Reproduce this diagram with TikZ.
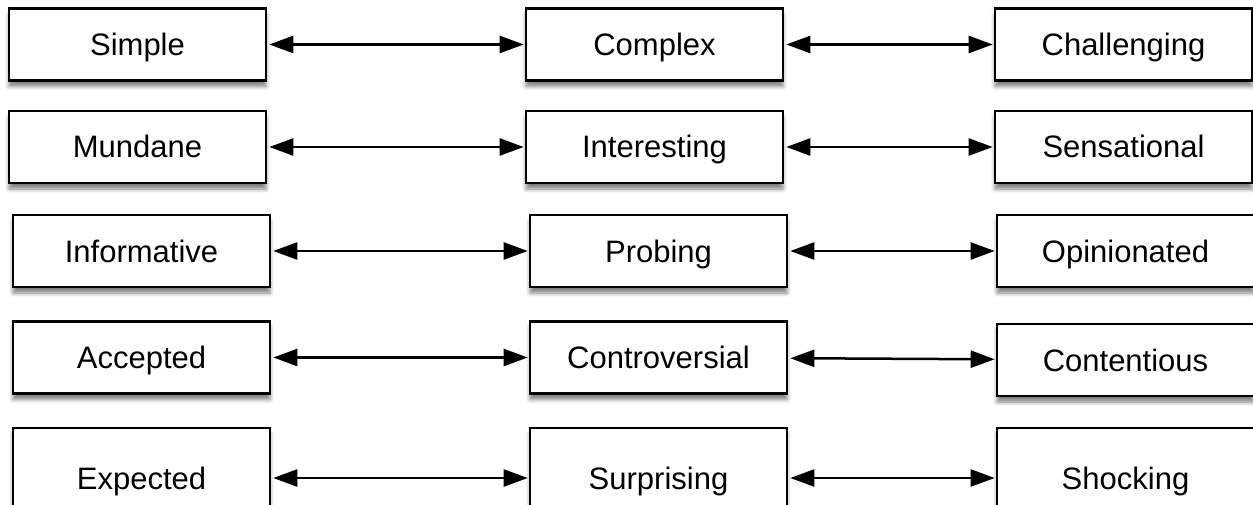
\documentclass[tikz,border=0pt]{standalone}
\usepackage{fontspec}
\setmainfont{Liberation Sans}
\usetikzlibrary{arrows.meta,shadows.blur}

\begin{document}
\begin{tikzpicture}[
  x=1pt, y=-1pt,
  box/.style={draw, fill=white, line width=2.6pt, minimum width=257pt,
              minimum height=72pt, inner sep=0pt, font=\fontsize{31}{37}\selectfont,
              text height=22pt, text depth=0pt,
              blur shadow={shadow xshift=0pt, shadow yshift=-6pt, shadow opacity=50,
                           shadow blur radius=4pt}},
  tall/.style={box, minimum height=100pt},
  arr/.style={{Triangle[length=24pt,width=17pt]}-{Triangle[length=24pt,width=17pt]},
              line width=2.5pt, shorten <=2pt, shorten >=1pt}
]
  \useasboundingbox (0,0) rectangle (1253,505);
  % row 1
  \node[box] (simple)  at (137.5,44.5)  {Simple};
  \node[box] (complex) at (654.5,44.5)  {Complex};
  \node[box] (chall)   at (1123.5,44.5) {Challenging};
  % row 2
  \node[box] (mundane) at (137.5,147)   {Mundane};
  \node[box] (interest) at (654.5,147)  {Interesting};
  \node[box] (sensat)  at (1123.5,147)  {Sensational};
  % row 3
  \node[box] (inform)  at (141.5,251)   {Informative};
  \node[box] (probing) at (658.5,251)   {Probing};
  \node[box] (opinion) at (1125.5,251)  {Opinionated};
  % row 4
  \node[box] (accept)  at (141.5,357.5) {Accepted};
  \node[box] (controv) at (658.5,357.5) {Controversial};
  \node[box] (content) at (1125.5,360)  {Contentious};
  % row 5
  \node[tall] (expect)  at (141.5,478)  {Expected};
  \node[tall] (surpr)   at (658.5,478)  {Surprising};
  \node[tall] (shock)   at (1125.5,478) {Shocking};
  % arrows
  \draw[arr] (simple)  -- (complex);
  \draw[arr] (complex) -- (chall);
  \draw[arr] (mundane) -- (interest);
  \draw[arr] (interest) -- (sensat);
  \draw[arr] (inform)  -- (probing);
  \draw[arr] (probing) -- (opinion);
  \draw[arr] (accept)  -- (controv);
  \draw[arr] (controv) -- (content);
  \draw[arr] (expect)  -- (surpr);
  \draw[arr] (surpr)   -- (shock);
\end{tikzpicture}
\end{document}
